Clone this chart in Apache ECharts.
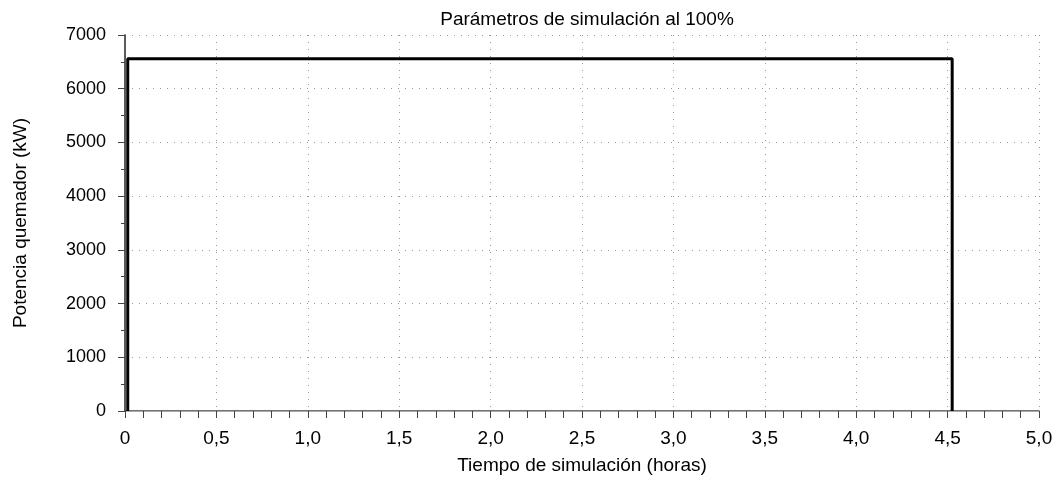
<!DOCTYPE html>
<html>
<head>
<meta charset="utf-8">
<script src="https://cdn.jsdelivr.net/npm/echarts@6/dist/echarts.min.js"></script>
<style>
  html, body { margin: 0; padding: 0; background: #fff; }
  #chart { width: 1056px; height: 480px; }
</style>
</head>
<body>
<div id="chart"></div>
<script>
// tiempo (horas) y potencia (kW) del quemador
const tiempo = [0.015, 0.015, 4.525, 4.525];
const potencia = [0, 6560, 6560, 0];
const xTicks = [0, 0.5, 1.0, 1.5, 2.0, 2.5, 3.0, 3.5, 4.0, 4.5, 5.0];
const yTicks = [0, 1000, 2000, 3000, 4000, 5000, 6000, 7000];

const font = 'Liberation Sans, Arial, Helvetica, sans-serif';
const grid = { left: 125, right: 17, top: 35, bottom: 66 };

const dotted = { show: true, lineStyle: { color: '#999', width: 1, type: [1, 6] } };

let myChart = echarts.init(document.getElementById('chart'));
myChart.setOption({
  animation: false,
  textStyle: { fontFamily: font },
  title: {
    text: 'Parámetros de simulación al 100%',
    left: 582, top: 5, textAlign: 'center',
    textStyle: { fontSize: 19, fontWeight: 'normal', color: '#000', fontFamily: font }
  },
  grid: grid,
  xAxis: [{
    type: 'value',
    min: xTicks[0], max: xTicks[xTicks.length - 1], interval: 0.5,
    name: 'Tiempo de simulación (horas)',
    nameLocation: 'middle', nameGap: 45,
    nameTextStyle: { fontSize: 19, color: '#000', fontFamily: font },
    axisLine: { lineStyle: { color: '#444', width: 1.5 } },
    axisTick: { show: true, length: 7, lineStyle: { color: '#444' } },
    minorTick: { show: true, splitNumber: 5, length: 7, lineStyle: { color: '#444' } },
    axisLabel: {
      fontSize: 19, color: '#000', margin: 18, fontFamily: font,
      formatter: v => v === 0 ? '0' : v.toFixed(1).replace('.', ',')
    },
    splitLine: dotted
  }, {
    type: 'value', position: 'top', min: 0, max: 5,
    axisLine: { show: true, lineStyle: { color: '#aaa' } },
    axisTick: { show: false }, axisLabel: { show: false }, splitLine: { show: false }
  }],
  yAxis: [{
    type: 'value',
    min: yTicks[0], max: yTicks[yTicks.length - 1], interval: 1000,
    name: 'Potencia quemador (kW)',
    nameLocation: 'middle', nameGap: 95,
    nameTextStyle: { fontSize: 19, color: '#000', fontFamily: font },
    axisLine: { show: true, lineStyle: { color: '#888', width: 1.5 } },
    axisTick: { show: true, length: 7, lineStyle: { color: '#444' } },
    minorTick: { show: true, splitNumber: 2, length: 4, lineStyle: { color: '#444' } },
    axisLabel: {
      fontSize: 18, color: '#000', margin: 19, fontFamily: font,
      formatter: v => String(v)
    },
    splitLine: dotted
  }, {
    type: 'value', position: 'right', min: 0, max: 7000,
    axisLine: { show: true, lineStyle: { color: '#444', width: 1.5 } },
    axisTick: { show: false }, axisLabel: { show: false }, splitLine: { show: false }
  }],
  series: [{
    type: 'line',
    data: tiempo.map((t, i) => [t, potencia[i]]),
    showSymbol: false,
    lineStyle: { color: '#000', width: 3 },
    z: 5
  }]
});
</script>
</body>
</html>
